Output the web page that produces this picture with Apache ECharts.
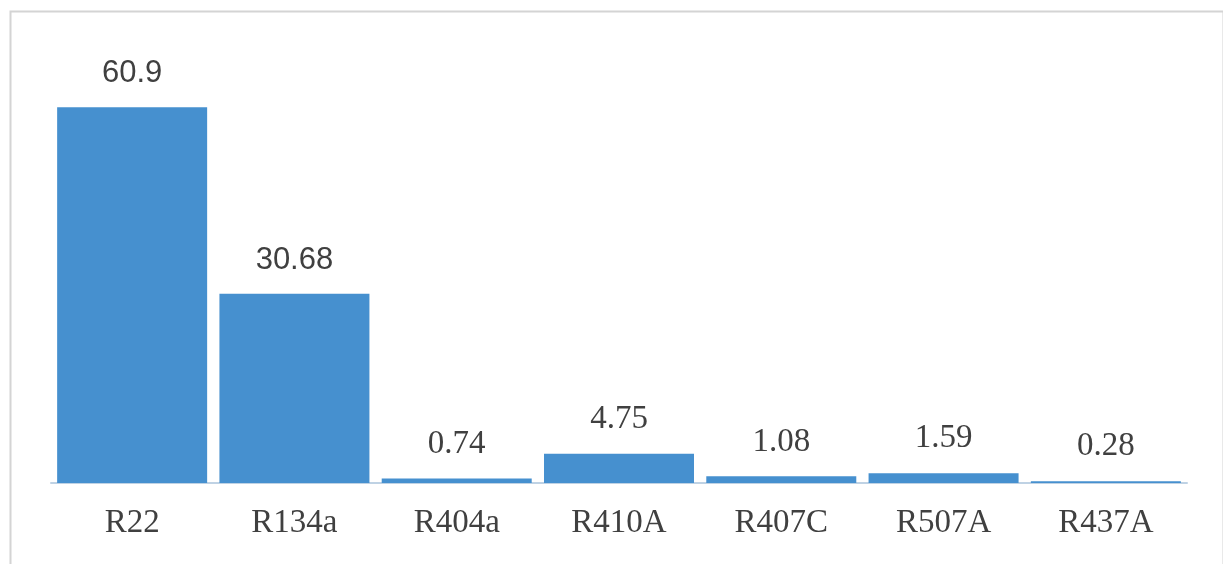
<!DOCTYPE html>
<html>
<head>
<meta charset="utf-8">
<title>Refrigerant share</title>
<script src="https://cdn.jsdelivr.net/npm/echarts@6/dist/echarts.min.js"></script>
<style>
  html, body { margin: 0; padding: 0; background: #ffffff; }
  #chart { width: 1223px; height: 564px; }
</style>
</head>
<body>
<div id="chart"></div>
<script>
// Refrigerant types and their values
const categories = ['R22', 'R134a', 'R404a', 'R410A', 'R407C', 'R507A', 'R437A'];
const values = [60.9, 30.68, 0.74, 4.75, 1.08, 1.59, 0.28];
// Labels of the two largest bars are set in a sans face
const sansLabelIndices = [0, 1];

const serif = '"Liberation Serif", "Times New Roman", serif';
const sans = '"Liberation Sans", Arial, sans-serif';
const textColor = '#404040';

const chart = echarts.init(document.getElementById('chart'), null, { renderer: 'canvas' });

const barData = values.map((v, i) => {
  const item = { value: v };
  if (sansLabelIndices.includes(i)) {
    item.label = { fontFamily: sans, fontSize: 31 };
  }
  return item;
});

chart.setOption({
  backgroundColor: '#ffffff',
  animation: false,
  graphic: [{
    type: 'rect',
    left: 8,
    top: 9,
    shape: { width: 1213, height: 570 },
    style: { fill: 'none', stroke: '#d4d4d4', lineWidth: 2 },
    silent: true
  }],
  grid: { left: 51, right: 36, top: 51, bottom: 81 },
  xAxis: {
    type: 'category',
    data: categories,
    axisTick: { show: false },
    axisLine: { show: true, lineStyle: { color: '#bfd2e4', width: 2 } },
    axisLabel: {
      color: textColor,
      fontFamily: serif,
      fontSize: 33,
      margin: 24
    }
  },
  yAxis: {
    type: 'value',
    min: 0,
    max: 70,
    show: false,
    splitLine: { show: false }
  },
  series: [{
    type: 'bar',
    data: barData,
    barWidth: 150,
    itemStyle: { color: '#4690cf' },
    label: {
      show: true,
      position: 'top',
      distance: 18,
      color: textColor,
      fontFamily: serif,
      fontSize: 33
    },
    z: 1
  }]
});
</script>
</body>
</html>
